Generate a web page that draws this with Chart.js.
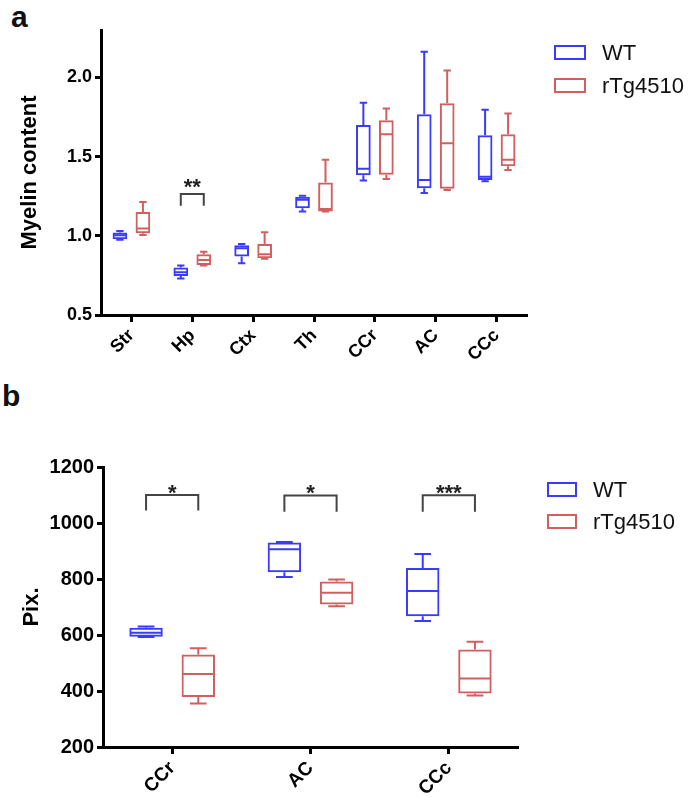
<!DOCTYPE html>
<html lang="en">
<head>
  <meta charset="UTF-8" />
  <title>Myelin content / Pix.</title>
  <script src="https://cdn.jsdelivr.net/npm/chart.js"></script>
  <style>
    html, body { margin: 0; padding: 0; background: #fff; }
    body { width: 688px; height: 798px; position: relative; overflow: hidden; font-family: "Liberation Sans", Arial, sans-serif; }
    .panel { position: absolute; left: 0; width: 688px; }
    .tag { position: absolute; font: bold 30px "Liberation Sans", Arial, sans-serif; color: #111; }
  </style>
</head>
<body>

  <div class="tag" style="left:11px; top:0px;">a</div>
  <div class="panel" style="top:0; height:372px;"><canvas id="chartA" width="688" height="372"></canvas></div>

  <div class="tag" style="left:2px; top:379px;">b</div>
  <div class="panel" style="top:380px; height:418px;"><canvas id="chartB" width="688" height="418"></canvas></div>

  <script>
    // ---- panel a: myelin content per region ----
    const regionsA = ['Str', 'Hp', 'Ctx', 'Th', 'CCr', 'AC', 'CCc'];
    const yTicksA = [0.5, 1.0, 1.5, 2.0];

    const wtMinA = [0.975, 0.73, 0.827, 1.154, 1.35, 1.27, 1.344];
    const wtQ1A  = [0.979, 0.747, 0.869, 1.175, 1.382, 1.30, 1.352];
    const wtMedA = [1.004, 0.77, 0.922, 1.228, 1.424, 1.352, 1.373];
    const wtQ3A  = [1.021, 0.80, 0.941, 1.247, 1.70, 1.768, 1.635];
    const wtMaxA = [1.03, 0.812, 0.949, 1.253, 1.84, 2.163, 1.796];

    const tgMinA = [1.006, 0.812, 0.855, 1.154, 1.359, 1.29, 1.416];
    const tgQ1A  = [1.017, 0.816, 0.859, 1.154, 1.386, 1.297, 1.439];
    const tgMedA = [1.046, 0.848, 0.884, 1.169, 1.641, 1.584, 1.481];
    const tgQ3A  = [1.15, 0.884, 0.949, 1.337, 1.73, 1.837, 1.641];
    const tgMaxA = [1.213, 0.899, 1.023, 1.481, 1.804, 2.044, 1.772];

    const sigCatA = [1];
    const sigTextA = ['**'];
    const sigTopA = [1.264];
    const sigFootA = [1.19];

    // ---- panel b: pixel counts in white matter ----
    const regionsB = ['CCr', 'AC', 'CCc'];
    const yTicksB = [200, 400, 600, 800, 1000, 1200];

    const wtMinB = [593, 807, 650];
    const wtQ1B  = [594, 824, 667];
    const wtMedB = [608, 906, 757];
    const wtQ3B  = [626, 930, 839];
    const wtMaxB = [630, 932, 889];

    const tgMinB = [355, 703, 384];
    const tgQ1B  = [379, 709, 391];
    const tgMedB = [461, 751, 445];
    const tgQ3B  = [530, 791, 548];
    const tgMaxB = [553, 798, 576];

    const sigCatB = [0, 1, 2];
    const sigTextB = ['*', '*', '***'];
    const sigTopB = [1100, 1098, 1099];
    const sigFootB = [1045, 1040, 1040];

    const BLUE = '#3b3bff';
    const RED = '#d25f5f';
    const FONT = '"Liberation Sans", Arial, sans-serif';

    function boxSet(label, color, q1, q3, min, med, max) {
      return {
        label: label,
        data: q1.map((v, i) => [v, q3[i]]),
        whisk: { min: min, med: med, max: max },
        backgroundColor: 'rgba(0,0,0,0)',
        borderColor: color,
        borderWidth: 2,
        borderSkipped: false,
        categoryPercentage: 0.755,
        barPercentage: 0.64
      };
    }

    // medians + whiskers on top of the floating bars
    const whiskerPlugin = {
      id: 'whiskers',
      afterDatasetsDraw(chart) {
        const ctx = chart.ctx;
        const y = chart.scales.y;
        chart.data.datasets.forEach((ds, di) => {
          const meta = chart.getDatasetMeta(di);
          ctx.save();
          ctx.strokeStyle = ds.borderColor;
          ctx.lineWidth = 2;
          meta.data.forEach((bar, i) => {
            const w = bar.width;
            const x = bar.x;
            const cap = w * 0.25;
            const yMed = y.getPixelForValue(ds.whisk.med[i]);
            const yQ1 = y.getPixelForValue(ds.data[i][0]);
            const yQ3 = y.getPixelForValue(ds.data[i][1]);
            const yMin = y.getPixelForValue(ds.whisk.min[i]);
            const yMax = y.getPixelForValue(ds.whisk.max[i]);
            ctx.beginPath();
            ctx.moveTo(x - w / 2 + 1, yMed); ctx.lineTo(x + w / 2 - 1, yMed);
            ctx.moveTo(x, yQ3); ctx.lineTo(x, yMax);
            ctx.moveTo(x - cap, yMax); ctx.lineTo(x + cap, yMax);
            ctx.moveTo(x, yQ1); ctx.lineTo(x, yMin);
            ctx.moveTo(x - cap, yMin); ctx.lineTo(x + cap, yMin);
            ctx.stroke();
          });
          ctx.restore();
        });
      }
    };

    // significance brackets
    const sigPlugin = {
      id: 'sig',
      afterDatasetsDraw(chart, args, opts) {
        const ctx = chart.ctx;
        const y = chart.scales.y;
        const m0 = chart.getDatasetMeta(0), m1 = chart.getDatasetMeta(1);
        ctx.save();
        opts.cats.forEach((c, k) => {
          const x0 = m0.data[c].x, x1 = m1.data[c].x;
          const yt = y.getPixelForValue(opts.top[k]);
          const yf = y.getPixelForValue(opts.foot[k]);
          ctx.strokeStyle = '#444';
          ctx.lineWidth = 2;
          ctx.beginPath();
          ctx.moveTo(x0, yf); ctx.lineTo(x0, yt); ctx.lineTo(x1, yt); ctx.lineTo(x1, yf);
          ctx.stroke();
          ctx.fillStyle = '#222';
          ctx.font = 'bold ' + opts.size + 'px ' + FONT;
          ctx.textAlign = 'center';
          ctx.textBaseline = 'alphabetic';
          // asterisks sit high in the em box: place their centre opts.gap px above the bracket
          ctx.fillText(opts.text[k], (x0 + x1) / 2, yt - opts.gap + opts.size * 0.53);
        });
        ctx.restore();
      }
    };

    // outlined-box legend
    const boxLegend = {
      id: 'boxLegend',
      afterDraw(chart, args, opts) {
        const ctx = chart.ctx;
        ctx.save();
        chart.data.datasets.forEach((ds, i) => {
          const top = opts.y + i * opts.gap;
          ctx.strokeStyle = ds.borderColor;
          ctx.lineWidth = 2;
          ctx.strokeRect(opts.x + 1, top + 1, opts.w - 2, opts.h - 2);
          ctx.fillStyle = '#111';
          ctx.font = '22px ' + FONT;
          ctx.textAlign = 'left';
          ctx.textBaseline = 'middle';
          ctx.fillText(ds.label, opts.x + opts.w + 16, top + opts.h / 2 + 1);
        });
        ctx.restore();
      }
    };

    function makeChart(id, cats, sets, ymin, ymax, ticks, yTitle, yFont, xFont, axisW, axisH, pad, titlePad, sig, legend) {
      return new Chart(document.getElementById(id), {
        type: 'bar',
        data: { labels: cats, datasets: sets },
        options: {
          responsive: false,
          animation: false,
          layout: { padding: pad },
          plugins: {
            legend: { display: false },
            tooltip: { enabled: false },
            sig: sig,
            boxLegend: legend
          },
          scales: {
            x: {
              grid: { offset: false, drawOnChartArea: false, tickLength: 7, tickWidth: 3, tickColor: '#000' },
              border: { color: '#000', width: 3 },
              ticks: { color: '#000', font: { family: FONT, size: xFont, weight: 'bold' }, minRotation: 45, maxRotation: 45, padding: 3 },
              afterFit(s) { s.height = axisH; }
            },
            y: {
              min: ymin,
              max: ymax,
              afterBuildTicks(s) { s.ticks = ticks.map(v => ({ value: v })); },
              grid: { drawOnChartArea: false, tickLength: 6, tickWidth: 3, tickColor: '#000' },
              border: { color: '#000', width: 3 },
              ticks: {
                color: '#000', padding: 3,
                font: { family: FONT, size: yFont, weight: 'bold' },
                callback: v => (ymax < 10 ? v.toFixed(1) : String(v))
              },
              title: { display: true, text: yTitle, color: '#000', font: { family: FONT, size: 22, weight: 'bold' }, padding: { top: titlePad, bottom: 0 } },
              afterFit(s) { s.width = axisW; }
            }
          }
        },
        plugins: [whiskerPlugin, sigPlugin, boxLegend]
      });
    }

    makeChart('chartA', regionsA,
      [boxSet('WT', BLUE, wtQ1A, wtQ3A, wtMinA, wtMedA, wtMaxA),
       boxSet('rTg4510', RED, tgQ1A, tgQ3A, tgMinA, tgMedA, tgMaxA)],
      0.5, 2.3, yTicksA, 'Myelin content', 18, 18, 101, 57,
      { top: 30, right: 161, left: 0, bottom: 0 }, 17,
      { cats: sigCatA, text: sigTextA, top: sigTopA, foot: sigFootA, size: 22, gap: 12 },
      { x: 554, y: 45, w: 32, h: 15, gap: 33 });

    makeChart('chartB', regionsB,
      [boxSet('WT', BLUE, wtQ1B, wtQ3B, wtMinB, wtMedB, wtMaxB),
       boxSet('rTg4510', RED, tgQ1B, tgQ3B, tgMinB, tgMedB, tgMaxB)],
      200, 1200, yTicksB, 'Pix.', 20, 19, 103, 51,
      { top: 87, right: 170, left: 0, bottom: 0 }, 19,
      { cats: sigCatB, text: sigTextB, top: sigTopB, foot: sigFootB, size: 22, gap: 7 },
      { x: 547, y: 102, w: 30, h: 15, gap: 32 });
  </script>
</body>
</html>
